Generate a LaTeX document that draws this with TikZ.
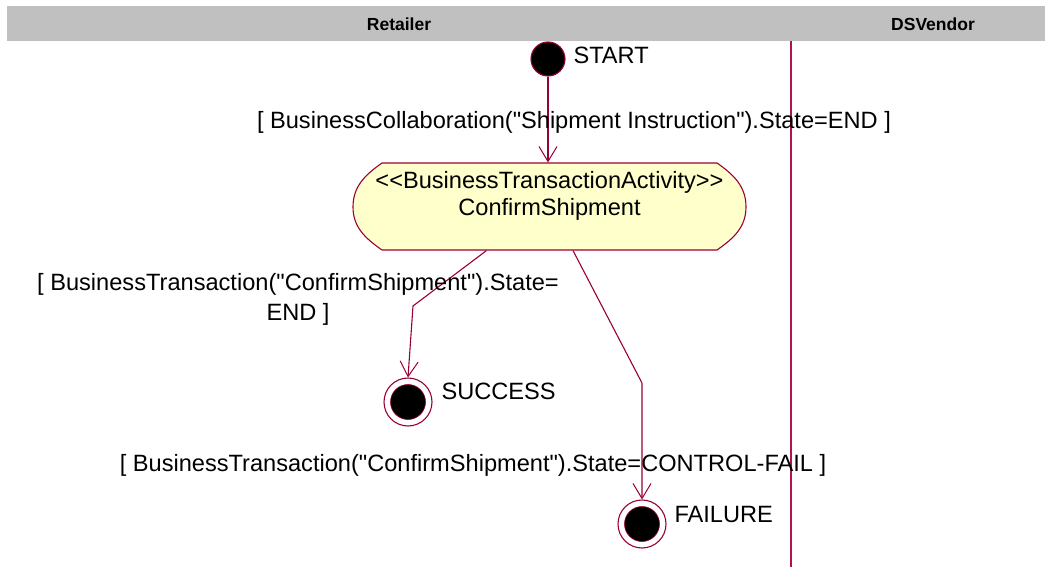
\documentclass[tikz,border=0pt]{standalone}
\usepackage{fontspec}
\setmainfont{Liberation Sans}[Ligatures=TeXOff]
\usetikzlibrary{arrows.meta, calc}
\definecolor{rosered}{RGB}{153,0,51}
\definecolor{laneline}{RGB}{176,20,80}
\definecolor{actyellow}{RGB}{255,255,204}
\definecolor{lanegray}{RGB}{192,192,192}

\begin{document}
\begin{tikzpicture}[x=1pt, y=-1pt, line width=1.1pt,
    flow/.style={draw=rosered, -{Straight Barb[length=15pt, width=18pt, line width=1pt]}},
    txt/.style={inner sep=0pt, font=\fontsize{23.6}{27}\selectfont},
    lanehead/.style={inner sep=0pt, font=\fontsize{17.5}{20}\selectfont\bfseries},
    initial/.style={circle, draw=rosered, fill=black, minimum size=34pt, inner sep=0pt},
    final/.style={circle, draw=rosered, fill=white, minimum size=48pt, inner sep=0pt},
    finalin/.style={circle, draw=rosered, fill=black, line width=0.6pt, minimum size=35pt, inner sep=0pt}]
    \useasboundingbox (0, 0) rectangle (1045, 567);

    % swimlanes
    \fill[lanegray] (7, 6) rectangle (1045, 41);
    \node[lanehead] (retailer) at (399, 24) {Retailer};
    \node[lanehead] (dsvendor) at (933, 24) {DSVendor};
    \coordinate (lanetop) at (791, 41);
    \coordinate (lanebot) at (791, 567);
    \draw[laneline, line width=1.2pt] (lanetop) -- (lanebot);

    % business transaction activity
    \draw[rosered, fill=actyellow] (382, 163) -- (717, 163)
        to[out=-35, in=90] (746, 207) to[out=-90, in=35] (717, 250)
        -- (382, 250) to[out=145, in=-90] (353, 207) to[out=90, in=-145] cycle;
    \node[txt, minimum width=393pt, minimum height=87pt, align=center, text depth=0pt]
        (act) at (549.5, 206.5) {{<}{<}BusinessTransactionActivity{>}{>}\\ConfirmShipment\\\mbox{}};

    % states
    \node[initial] (start) at (548, 59) {};
    \node[txt, anchor=west] (startlbl) at (573, 55) {START};
    \node[final] (succ) at (408, 402) {};
    \node[finalin] (succin) at (succ) {};
    \node[txt, anchor=west] (succlbl) at (441, 391) {SUCCESS};
    \node[final] (fail) at (642, 524) {};
    \node[finalin] (failin) at (fail) {};
    \node[txt, anchor=west] (faillbl) at (674, 514) {FAILURE};

    % transitions
    \draw[flow] (start) -- (start |- act.north);
    \node[txt] (guardin) at (574, 122) {[ BusinessCollaboration("Shipment Instruction").State=END ]};

    \coordinate (bendok) at (413, 306);
    \draw[flow] ($(act.south)+(-63, 0)$) -- (bendok) -- (succ.north);
    \node[txt, align=center, font=\fontsize{23.6}{30}\selectfont] (guardok) at (298, 299)
        {[ BusinessTransaction("ConfirmShipment").State=\\END ]};

    \coordinate (bendfail) at (642, 383);
    \draw[flow] ($(act.south)+(23.5, 0)$) -- (bendfail) -- (fail.north);
    \node[txt] (guardfail) at (473, 465) {[ BusinessTransaction("ConfirmShipment").State=CONTROL-FAIL ]};
\end{tikzpicture}
\end{document}
